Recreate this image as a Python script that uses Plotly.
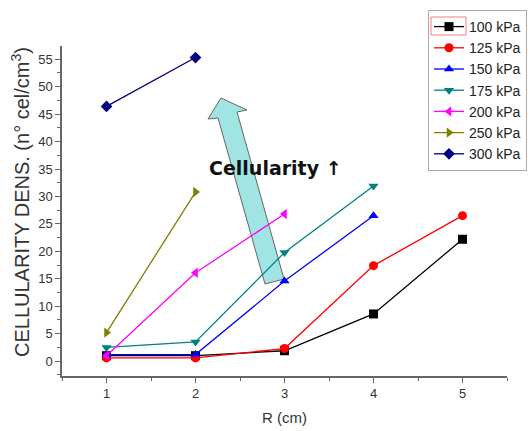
import plotly.graph_objects as go

r_cm = [1, 2, 3, 4, 5]
series_names = ["100 kPa", "125 kPa", "150 kPa", "175 kPa", "200 kPa", "250 kPa", "300 kPa"]
values = {
    "100 kPa": [1.0, 1.0, 1.9, 8.6, 22.2],
    "125 kPa": [0.6, 0.6, 2.3, 17.4, 26.5],
    "150 kPa": [1.2, 1.2, 14.6, 26.5],
    "175 kPa": [2.5, 3.5, 19.8, 31.9],
    "200 kPa": [1.0, 16.1, 26.8],
    "250 kPa": [5.2, 30.8],
    "300 kPa": [46.4, 55.3],
}
colors = ["#000000", "#FF0000", "#0000FF", "#008080", "#FF00FF", "#808000", "#000080"]
symbols = ["square", "circle", "triangle-up", "triangle-down", "triangle-left", "triangle-right", "diamond"]
y_ticks = [0, 5, 10, 15, 20, 25, 30, 35, 40, 45, 50, 55]
x_ticks = [1, 2, 3, 4, 5]

W, H = 531, 431
L, R, T, B = 62, 24, 46, 55
pw, ph = W - L - R, H - T - B

def px(x):
    return (x - L) / pw

def py(y):
    return (H - B - y) / ph

fig = go.Figure()
for name, c, s in zip(series_names, colors, symbols):
    v = values[name]
    fig.add_trace(go.Scatter(
        x=r_cm[:len(v)], y=v, name=name, mode="lines+markers",
        line=dict(color=c, width=1.3),
        marker=dict(symbol=s, size=9, color=c, line=dict(width=0)),
    ))

# decorative arrow (pixel outline)
pts = [(221, 98), (247, 110), (237, 112), (284, 279), (265, 284), (218, 118), (208, 119)]
path = "M " + " L ".join(f"{px(a):.4f},{py(b):.4f}" for a, b in pts) + " Z"
fig.add_shape(type="path", path=path, xref="paper", yref="paper",
              fillcolor="#A0E4E4", line=dict(color="#666666", width=1), layer="below")

fig.add_annotation(x=px(275), y=py(168), xref="paper", yref="paper",
                   xanchor="center", yanchor="middle",
                   text="<b>Cellularity ↑</b>", showarrow=False,
                   font=dict(family="DejaVu Sans", size=19, color="#111111"))

fig.add_annotation(x=px(20), y=py(202), xref="paper", yref="paper", textangle=-90,
                   xanchor="center", yanchor="middle",
                   text="CELLULARITY DENS. (n° cel/cm<sup>3</sup>)", showarrow=False,
                   font=dict(family="Liberation Sans, Arial", size=20, color="#333333"))

# selection box around first legend sample
fig.add_shape(type="rect", xref="paper", yref="paper",
              x0=px(431), x1=px(466), y0=py(35), y1=py(17),
              line=dict(color="#F08080", width=1), fillcolor="rgba(0,0,0,0)")

fig.update_layout(
    width=W, height=H,
    margin=dict(l=L, r=R, t=T, b=B, autoexpand=False),
    paper_bgcolor="white", plot_bgcolor="white",
    font=dict(family="Liberation Sans, Arial", color="#333333"),
    showlegend=True,
    legend=dict(x=px(428), y=py(10), xanchor="left", yanchor="top",
                bgcolor="rgba(255,255,255,0)", bordercolor="#AAAAAA", borderwidth=1,
                font=dict(size=14, color="#222222"), tracegroupgap=0,
                itemwidth=30),
)
fig.update_xaxes(
    range=[0.5, 5.5], tickvals=x_ticks, ticks="outside", ticklen=5, tickwidth=1.2,
    tickcolor="#666666", showline=True, linecolor="#666666", linewidth=1.5,
    showgrid=False, zeroline=False, tickfont=dict(size=13, color="#333333"),
    minor=dict(ticks="outside", dtick=0.5, ticklen=3, tickcolor="#666666", showgrid=False),
    title=dict(text="R (cm)", font=dict(size=15, color="#333333"), standoff=12),
)
fig.update_yaxes(
    range=[-2.7, 57.4], tickvals=y_ticks, ticks="outside", ticklen=5, tickwidth=1.2,
    tickcolor="#666666", showline=True, linecolor="#666666", linewidth=1.5,
    showgrid=False, zeroline=False, tickfont=dict(size=13, color="#333333"),
    minor=dict(ticks="outside", dtick=2.5, ticklen=3, tickcolor="#666666", showgrid=False),
)

fig.write_html("out.html")
